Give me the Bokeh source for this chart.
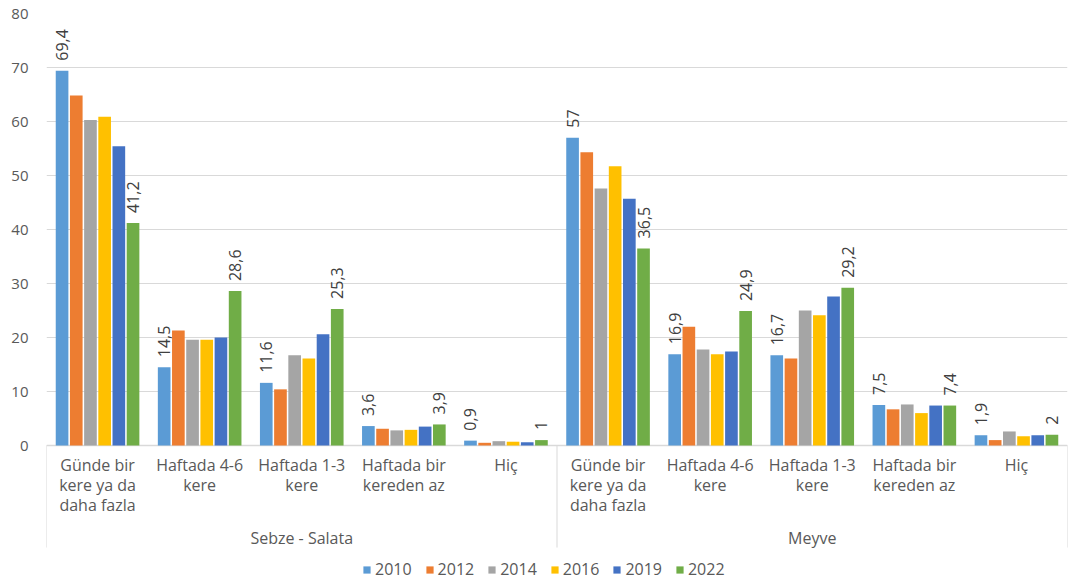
import math
from bokeh.plotting import figure
from bokeh.models import FixedTicker, Range1d
from bokeh.core.properties import value
from bokeh.embed import file_html
from bokeh.resources import INLINE

groups = ["Sebze - Salata", "Meyve"]
categories = ["Günde bir\nkere ya da\ndaha fazla", "Haftada 4-6\nkere",
              "Haftada 1-3\nkere", "Haftada bir\nkereden az", "Hiç"]
years = ["2010", "2012", "2014", "2016", "2019", "2022"]
y_ticks = [0, 10, 20, 30, 40, 50, 60, 70, 80]

# values: 5 categories of Sebze - Salata, then 5 of Meyve
v2010 = [69.4, 14.5, 11.6, 3.6, 0.9, 57, 16.9, 16.7, 7.5, 1.9]
v2012 = [64.8, 21.3, 10.4, 3.1, 0.5, 54.3, 22.0, 16.1, 6.7, 1.0]
v2014 = [60.3, 19.6, 16.7, 2.8, 0.8, 47.6, 17.8, 25.0, 7.6, 2.6]
v2016 = [60.9, 19.6, 16.1, 2.9, 0.7, 51.7, 16.9, 24.1, 6.0, 1.7]
v2019 = [55.4, 20.0, 20.6, 3.5, 0.6, 45.7, 17.4, 27.6, 7.4, 1.9]
v2022 = [41.2, 28.6, 25.3, 3.9, 1, 36.5, 24.9, 29.2, 7.4, 2]
labelled_years = ["2010", "2022"]

series = [v2010, v2012, v2014, v2016, v2019, v2022]
colors = ["#5B9BD5", "#ED7D31", "#A5A5A5", "#FFC000", "#4472C4", "#70AD47"]

FONT = "Open Sans"
TXT = "#595959"

all_cats = categories * len(groups)
n = len(all_cats)
centers = [i + 0.5 for i in range(n)]
pitch = 0.139
bar_w = 0.124

p = figure(width=1068, height=582, output_backend="svg", toolbar_location=None,
           x_range=Range1d(0, n), y_range=Range1d(-25.37, 80),
           x_axis_location=None, min_border_left=46, min_border_right=1,
           min_border_top=13, min_border_bottom=0)
p.outline_line_color = None
p.xgrid.visible = False
p.ygrid.ticker = FixedTicker(ticks=y_ticks)
p.ygrid.grid_line_color = "#d9d9d9"
p.yaxis.ticker = FixedTicker(ticks=y_ticks)
p.yaxis.axis_line_color = None
p.yaxis.major_tick_line_color = None
p.yaxis.minor_tick_line_color = None
p.yaxis.major_label_standoff = 12
p.yaxis.major_label_text_font = FONT
p.yaxis.major_label_text_font_size = "15px"
p.yaxis.major_label_text_color = TXT

# axis line and separators
p.segment(x0=[0], y0=[0], x1=[n], y1=[0], line_color="#d9d9d9", line_width=1.5)
sep_x = [0, n / 2, n]
p.segment(x0=sep_x, y0=[0] * 3, x1=sep_x, y1=[-18.9] * 3, line_color="#d9d9d9", line_width=1)

def fmt(v):
    s = ("%g" % v)
    return s.replace(".", ",")

for j, (yr, vals, col) in enumerate(zip(years, series, colors)):
    xs = [c + (j - 2.5) * pitch for c in centers]
    p.vbar(x=xs, top=vals, width=bar_w, fill_color=col, line_color=None, legend_label=yr)
    if yr in labelled_years:
        p.text(x=xs, y=vals, text=[fmt(v) for v in vals], angle=math.pi / 2,
               text_align="left", text_baseline="middle", y_offset=-10,
               text_font=value(FONT), text_font_size="16px", text_color="#404040")

# category labels
p.text(x=centers, y=[0] * n, text=all_cats, text_align="center", text_baseline="top",
       y_offset=8, text_line_height=0.92, text_font=value(FONT), text_font_size="16px",
       text_color=TXT)
# group labels
p.text(x=[n / 4, 3 * n / 4], y=[0, 0], text=groups, text_align="center",
       text_baseline="middle", y_offset=92, text_font=value(FONT), text_font_size="16px",
       text_color=TXT)

lg = p.legend[0]
lg.orientation = "horizontal"
lg.location = (316, 2)
lg.border_line_color = None
lg.background_fill_alpha = 0
lg.padding = 0
lg.margin = 0
lg.spacing = 13
lg.label_standoff = 4
lg.glyph_width = 9
lg.glyph_height = 9
lg.label_text_font = FONT
lg.label_text_font_size = "16px"
lg.label_text_color = TXT

open("out.html", "w").write(file_html(p, INLINE))
